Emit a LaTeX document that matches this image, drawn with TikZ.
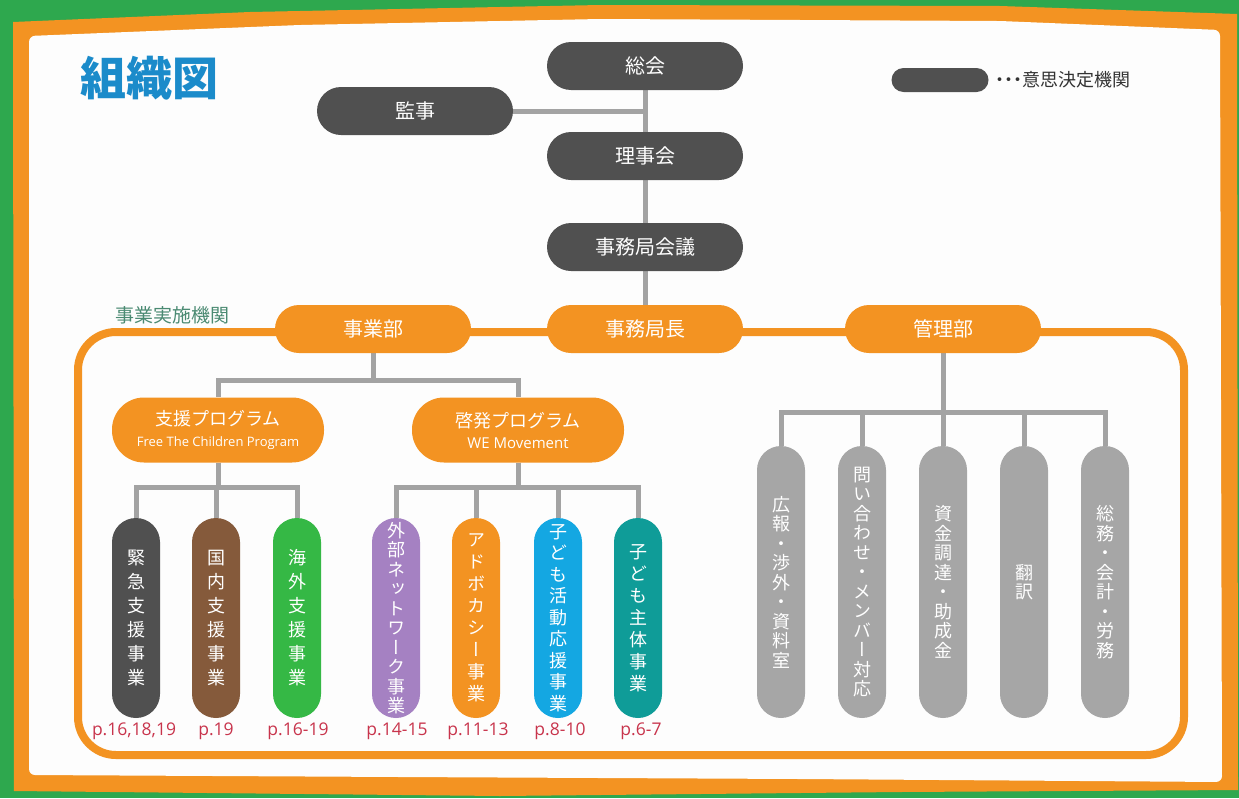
\documentclass[tikz,border=0pt]{standalone}
\usepackage{fontspec}
\setmainfont{Noto Sans CJK JP}
\newfontfamily\vjp[RawFeature=+vert]{Noto Sans CJK JP}
\newfontfamily\latinf{Open Sans}
\usetikzlibrary{calc}
\pgfdeclarelayer{back}
\pgfdeclarelayer{bg}
\pgfsetlayers{back,bg,main}
\definecolor{bggreen}{HTML}{2EA84E}
\definecolor{orng}{HTML}{F39322}
\definecolor{dk}{HTML}{505050}
\definecolor{conn}{HTML}{A3A3A3}
\definecolor{mg}{HTML}{A6A6A6}
\definecolor{brn}{HTML}{855A3B}
\definecolor{grn}{HTML}{35B845}
\definecolor{prp}{HTML}{A581C2}
\definecolor{cyn}{HTML}{14A7E2}
\definecolor{tel}{HTML}{0F9C98}
\definecolor{ttl}{HTML}{1B8BCA}
\definecolor{pg}{HTML}{C8344C}
\definecolor{lbl}{HTML}{4A8A72}
\definecolor{paper}{HTML}{FDFDFD}
\begin{document}
\begin{tikzpicture}[x=1pt,y=-1pt,
  hpill/.style={rectangle,rounded corners=24pt,minimum width=196pt,minimum height=48pt,inner sep=0pt,text=white,font=\fontsize{20}{24}\selectfont},
  dkpill/.style={hpill,fill=dk},
  orpill/.style={hpill,fill=orng},
  prog/.style={rectangle,rounded corners=32pt,minimum width=212pt,minimum height=65pt,inner sep=0pt,fill=orng,text=white,align=center,font=\fontsize{18}{22}\selectfont},
  vpill/.style={rectangle,rounded corners=24pt,minimum width=48pt,minimum height=200pt,inner sep=0pt,text=white,align=center,font=\vjp\fontsize{18}{#1}\selectfont},
  vpill/.default=22,
  mpill/.style={vpill=19.5,fill=mg,minimum height=272pt},
  link/.style={draw=conn,line width=5pt},
  page/.style={text=pg,font=\latinf\fontsize{17.5}{20}\selectfont,inner sep=0pt}
]
\useasboundingbox (0,0) rectangle (1239,798);
\begin{pgfonlayer}{back}
\fill[bggreen] (0,0) rectangle (1239,798);
\fill[orng] (13,22) -- (250,12) -- (600,5) -- (1000,6) -- (1237,14) -- (1238,790) -- (900,792) -- (500,796) -- (14,791) -- cycle;
\fill[paper,rounded corners=6pt] (29,36) -- (300,25) -- (600,19) -- (1000,21) -- (1220,30) -- (1222,782) -- (800,779) -- (400,777) -- (29,775) -- cycle;
\end{pgfonlayer}
\begin{pgfonlayer}{bg}
\draw[orng,line width=8pt,rounded corners=38pt] (78,332) rectangle (1184,755);
\end{pgfonlayer}

% title and legend
\node[font=\bfseries\fontsize{46}{50}\selectfont,text=ttl,inner sep=0pt] (title) at (149,78) {組織図};
\node[dkpill,minimum width=97pt,minimum height=24pt,rounded corners=12pt] (leg) at (940,80) {};
\node[anchor=west,text=black!80,font=\fontsize{18}{20}\selectfont,inner sep=0pt] (legt) at (995,80) {{\bfseries ･･･}意思決定機関};
\node[text=lbl,font=\fontsize{19}{22}\selectfont,inner sep=0pt] (impl) at (172,315) {事業実施機関};

% decision bodies
\node[dkpill] (sokai) at (645,66) {総会};
\node[dkpill] (kanji) at (415,111) {監事};
\node[dkpill] (riji) at (645,156) {理事会};
\node[dkpill] (kaigi) at (645,247) {事務局会議};

% executive
\node[orpill] (jigyo) at (373,329) {事業部};
\node[orpill] (kyoku) at (645,329) {事務局長};
\node[orpill] (kanri) at (943,329) {管理部};

% programs
\node[prog] (shien) at (218,430) {支援プログラム\\[-1pt]{\latinf\fontsize{13}{16}\selectfont Free The Children Program}};
\node[prog] (keih) at (518,430) {啓発プログラム\\[-1pt]{\latinf\fontsize{15}{16}\selectfont WE Movement}};

% project pills
\node[vpill=24,fill=dk] (k1) at (136,618) {緊\\急\\支\\援\\事\\業};
\node[vpill=24,fill=brn] (k2) at (216,618) {国\\内\\支\\援\\事\\業};
\node[vpill=24,fill=grn] (k3) at (297,618) {海\\外\\支\\援\\事\\業};
\node[vpill=19.5,fill=prp] (k4) at (396,618) {外\\部\\ネ\\ッ\\ト\\ワ\\ー\\ク\\事\\業};
\node[vpill=22,fill=orng] (k5) at (476,618) {ア\\ド\\ボ\\カ\\シ\\ー\\事\\業};
\node[vpill=21.5,fill=cyn] (k6) at (558,618) {子\\ど\\も\\活\\動\\応\\援\\事\\業};
\node[vpill=22,fill=tel] (k7) at (638,618) {子\\ど\\も\\主\\体\\事\\業};

% page labels
\node[page] (p1) at (134,731) {p.16,18,19};
\node[page] (p2) at (216,731) {p.19};
\node[page] (p3) at (298,731) {p.16-19};
\node[page] (p4) at (397,731) {p.14-15};
\node[page] (p5) at (478,731) {p.11-13};
\node[page] (p6) at (560,731) {p.8-10};
\node[page] (p7) at (641,731) {p.6-7};

% management pills
\node[mpill] (m1) at (781,582) {広\\報\\・\\渉\\外\\・\\資\\料\\室};
\node[mpill] (m2) at (862,582) {問\\い\\合\\わ\\せ\\・\\メ\\ン\\バ\\ー\\対\\応};
\node[mpill] (m3) at (943,582) {資\\金\\調\\達\\・\\助\\成\\金};
\node[mpill] (m4) at (1024,582) {翻\\訳};
\node[mpill] (m5) at (1105,582) {総\\務\\・\\会\\計\\・\\労\\務};

% connectors
\begin{pgfonlayer}{bg}
\draw[link] (sokai.south) -- (riji.north);
\draw[link] (kanji.east) -- (kanji.east -| sokai.south);
\draw[link] (riji.south) -- (kaigi.north);
\draw[link] (kaigi.south) -- (kyoku.north);
\draw[link] (jigyo.south) -- ++(0,27) -| (shien.north);
\draw[link] (jigyo.south) -- ++(0,27) -| (keih.north);
\foreach \t in {k1,k2,k3}{\draw[link] (shien.south) -- ++(0,25) -| (\t.north);}
\foreach \t in {k4,k5,k6,k7}{\draw[link] (keih.south) -- ++(0,25) -| (\t.north);}
\foreach \t in {m1,m2,m3,m4,m5}{\draw[link] (kanri.south) -- ++(0,59) -| (\t.north);}
\end{pgfonlayer}
\end{tikzpicture}
\end{document}
